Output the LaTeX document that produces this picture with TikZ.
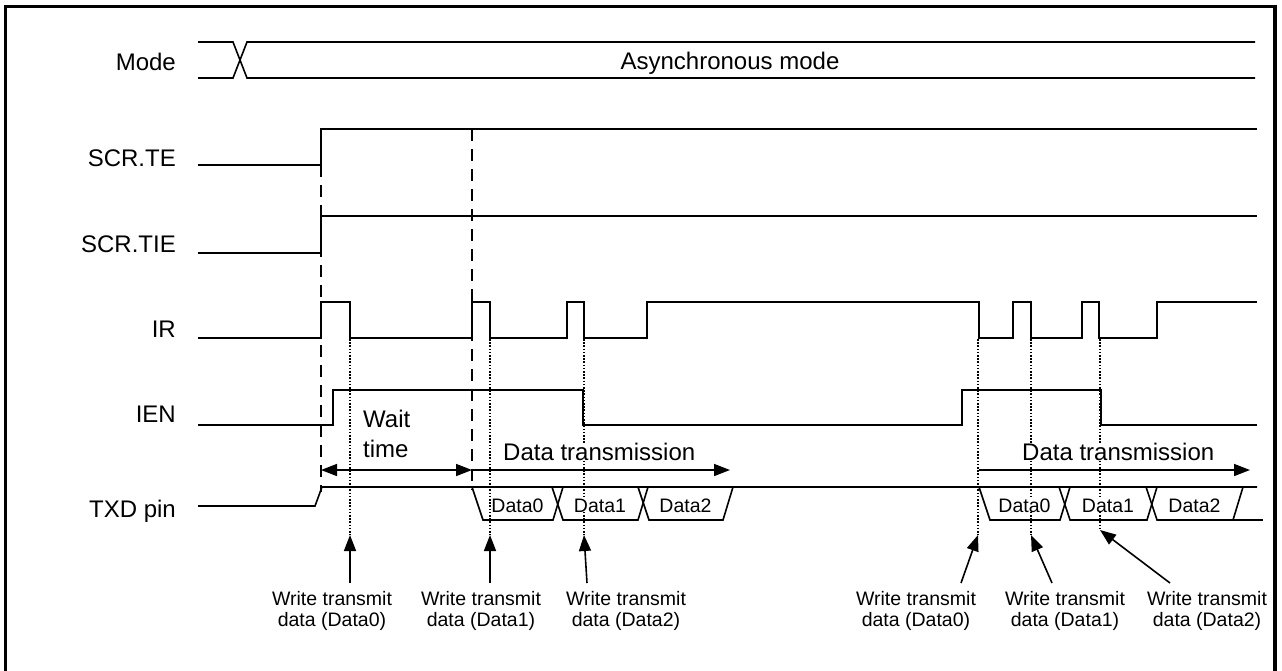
\documentclass[tikz,border=0pt]{standalone}
\usepackage{fontspec}
\setmainfont{Liberation Sans}
\usetikzlibrary{arrows.meta}

\begin{document}
\begin{tikzpicture}
  [
    x=1pt, y=-1pt,
    sig/.style={line width=1.6pt},
    guide/.style={line width=1.4pt, dash pattern=on 12pt off 8pt},
    dotln/.style={line width=1.3pt, dash pattern=on 1.6pt off 1.6pt},
    sname/.style={anchor=base east, inner sep=0pt, font=\fontsize{24}{28}\selectfont},
    bigtext/.style={inner sep=0pt, fill=white, font=\fontsize{24}{30}\selectfont},
    wnote/.style={anchor=north, inner sep=0pt, font=\fontsize{19.5}{21}\selectfont, align=center},
    dname/.style={anchor=base, inner sep=0pt, fill=white, font=\fontsize{19.5}{22}\selectfont},
    warrow/.style={line width=1.6pt, -{Triangle[length=16pt,width=12pt]}},
    warrows/.style={line width=1.6pt, {Triangle[length=16pt,width=12pt]}-{Triangle[length=16pt,width=12pt]}}
  ]
  \useasboundingbox (0,0) rectangle (1282,670);
  % frame
  \draw[line width=3pt] (5,672) -- (5,6) -- (1275,6);
  \draw[line width=4pt] (1275,4.5) -- (1275,672);
  % signal names
  \node[sname] (mode) at (176,70) {Mode};
  \node[sname] (te) at (176,166) {SCR.TE};
  \node[sname] (tie) at (176,252) {SCR.TIE};
  \node[sname] (ir) at (176,337) {IR};
  \node[sname] (ien) at (176,422) {IEN};
  \node[sname] (txd) at (176,517) {TXD pin};
  % Mode
  \draw[sig] (198,42) -- (233,42) -- (247,78) -- (1255,78);
  \draw[sig] (198,78) -- (233,78) -- (247,42) -- (1255,42);
  \node[bigtext, anchor=base] (async) at (730,69) {Asynchronous mode};
  % SCR.TE and SCR.TIE
  \draw[sig] (198,165) -- (321,165) -- (321,129) -- (1257,129);
  \draw[sig] (198,253) -- (321,253) -- (321,216) -- (1257,216);
  % IR
  \draw[sig] (198,338) -- (321,338) -- (321,302) -- (350,302) -- (350,338)
    -- (472,338) -- (472,302) -- (490,302) -- (490,338) -- (567,338)
    -- (567,302) -- (584,302) -- (584,338) -- (647,338) -- (647,302)
    -- (979,302) -- (979,338) -- (1013,338) -- (1013,302) -- (1031,302)
    -- (1031,338) -- (1082,338) -- (1082,302) -- (1099,302) -- (1099,338)
    -- (1157,338) -- (1157,302) -- (1257,302);
  % IEN
  \draw[sig] (198,425) -- (333,425) -- (333,390) -- (583,390) -- (583,425)
    -- (962,425) -- (962,390) -- (1101,390) -- (1101,425) -- (1257,425);
  % edges
  \draw[guide] (321,165) -- (321,492);
  \draw[guide] (472,129) -- (472,490);
  % write instants
  \foreach \n/\x/\y in {1/350/535, 2/490/535, 3/584/535, 4/978/535, 5/1031/535, 6/1100/530} {
    \coordinate (w\n) at (\x,\y);
    \draw[dotln] (\x,339) -- (w\n);
  }
  % TXD pin
  \draw[sig] (198,506) -- (315,506) -- (322,487) -- (1257,487);
  \foreach \a/\b/\d in {472/563/Data0, 552/648/Data1, 638/733/Data2,
                        979/1070/Data0, 1059/1157/Data1, 1146/1243/Data2} {
    \draw[sig] (\a,487) -- (\a+11,520) -- (\b-10,520) -- (\b,487);
    \node[dname] (d\a) at ({(\a+\b)/2},512) {\d};
  }
  \draw[sig] (1233,520) -- (1263,520);
  % periods
  \coordinate (ws) at (321,470);
  \coordinate (we) at (472,470);
  \coordinate (de1) at (730,470);
  \coordinate (ds2) at (979,470);
  \coordinate (de2) at (1250,470);
  \draw[warrows] (ws) -- (we);
  \draw[warrow] (we) -- (de1);
  \draw[warrow] (ds2) -- (de2);
  \node[bigtext, anchor=north west, align=left] (wait) at (363,410) {Wait\\time};
  \node[bigtext, anchor=base west] (dtx1) at (503,460) {Data transmission};
  \node[bigtext, anchor=base west] (dtx2) at (1022,460) {Data transmission};
  % write notes
  \node[wnote] (n1) at (332,591) {Write transmit\\data (Data0)};
  \node[wnote] (n2) at (481,591) {Write transmit\\data (Data1)};
  \node[wnote] (n3) at (626,591) {Write transmit\\data (Data2)};
  \node[wnote] (n4) at (916,591) {Write transmit\\data (Data0)};
  \node[wnote] (n5) at (1065,591) {Write transmit\\data (Data1)};
  \node[wnote] (n6) at (1207,591) {Write transmit\\data (Data2)};
  \draw[warrow] ([xshift=18pt,yshift=8pt]n1.north) -- (w1);
  \draw[warrow] ([xshift=9pt,yshift=8pt]n2.north) -- (w2);
  \draw[warrow] ([xshift=-39pt,yshift=8pt]n3.north) -- (w3);
  \draw[warrow] ([xshift=45pt,yshift=8pt]n4.north) -- (w4);
  \draw[warrow] ([xshift=-13pt,yshift=8pt]n5.north) -- (w5);
  \draw[warrow] ([xshift=-37pt,yshift=8pt]n6.north) -- (w6);
\end{tikzpicture}
\end{document}
